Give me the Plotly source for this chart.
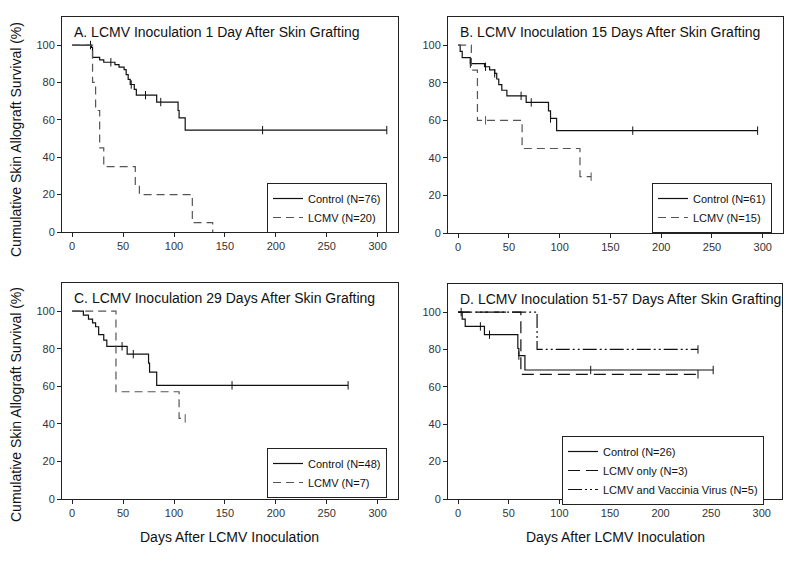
import numpy as np
import plotly.graph_objects as go

# Kaplan-Meier steps: (time in days, survival %) after each drop
a_ctrl_t = [0, 19, 20, 27, 31, 42, 46, 51, 53, 55, 57, 61, 63, 83, 104, 105, 111, 309]
a_ctrl_s = [100, 98.7, 93.4, 92.1, 90.8, 89.5, 88.2, 86.8, 84.2, 81.6, 78.9, 76.3, 73.2, 69.5, 65, 61, 54.5, 54.5]
a_ctrl_c = [18, 38, 58, 72, 87, 187, 309]
a_lcmv_t = [0, 20, 23, 27, 31, 62, 66, 118, 138]
a_lcmv_s = [100, 80, 65, 45, 35, 25, 20, 5, 0]
a_lcmv_c = []

b_ctrl_t = [0, 2, 4, 12, 26, 31, 36, 38, 40, 43, 48, 67, 89, 91, 97, 295]
b_ctrl_s = [100, 96.7, 93.4, 90.2, 88.5, 86.8, 85, 82, 79, 76, 73, 69.5, 65, 61, 54.5, 54.5]
b_ctrl_c = [12, 27, 36, 62, 72, 91, 172, 295]
b_lcmv_t = [0, 13, 19, 63, 120, 131]
b_lcmv_s = [100, 86.7, 60, 45, 30, 30]
b_lcmv_c = [27, 131]

c_ctrl_t = [0, 11, 16, 20, 23, 26, 31, 34, 54, 75, 76, 83, 271]
c_ctrl_s = [100, 97.9, 95.8, 93.8, 91.7, 87.5, 84.6, 81.3, 77.1, 72.3, 67.5, 60.5, 60.5]
c_ctrl_c = [49, 60, 157, 271]
c_lcmv_t = [0, 43, 105, 111]
c_lcmv_s = [100, 57.1, 42.9, 42.9]
c_lcmv_c = [111]

d_ctrl_t = [0, 4, 7, 26, 59, 60, 66, 252]
d_ctrl_s = [100, 96.2, 92.3, 87.9, 80.5, 76.7, 69, 69]
d_ctrl_c = [3, 22, 31, 60, 131, 252]
d_lcmv_t = [0, 62, 237]
d_lcmv_s = [100, 66.7, 66.7]
d_lcmv_c = [237]
d_vacc_t = [0, 78, 237]
d_vacc_s = [100, 80, 80]
d_vacc_c = [237]

titles = ["A. LCMV Inoculation 1 Day After Skin Grafting",
          "B. LCMV Inoculation 15 Days After Skin Grafting",
          "C. LCMV Inoculation 29 Days After Skin Grafting",
          "D. LCMV Inoculation 51-57 Days After Skin Grafting"]

FONT = "Arial, Liberation Sans, sans-serif"

# panel boxes in pixels: left, right, top, bottom
W, H = 800, 561
boxes = [(62, 398, 17, 232), (448, 783, 17, 233), (62, 398, 283, 499), (448, 782, 284, 499)]
legpos = [(267, 183), (652, 183), (267, 448), (562, 436)]

fig = go.Figure()


def surv_at(t, s, x):
    idx = np.searchsorted(np.array(t), x, side="right") - 1
    return [s[i] for i in idx]


def add_curve(k, t, s, cens, name, color, dash):
    ax = "" if k == 0 else str(k + 1)
    leg = "legend" if k == 0 else "legend%d" % (k + 1)
    fig.add_trace(go.Scatter(x=t, y=s, mode="lines", line_shape="hv", name=name,
                             line=dict(color=color, width=1.2, dash=dash),
                             xaxis="x" + ax, yaxis="y" + ax, legend=leg))
    if cens:
        fig.add_trace(go.Scatter(x=cens, y=surv_at(t, s, cens), mode="markers", showlegend=False,
                                 marker=dict(symbol="line-ns", size=6, line=dict(color=color, width=1)),
                                 xaxis="x" + ax, yaxis="y" + ax, hoverinfo="skip"))


solid = "solid"
dashed = "8px,5px"
add_curve(0, a_ctrl_t, a_ctrl_s, a_ctrl_c, "Control (N=76)", "#111", solid)
add_curve(0, a_lcmv_t, a_lcmv_s, a_lcmv_c, "LCMV (N=20)", "#555", dashed)
add_curve(1, b_ctrl_t, b_ctrl_s, b_ctrl_c, "Control (N=61)", "#111", solid)
add_curve(1, b_lcmv_t, b_lcmv_s, b_lcmv_c, "LCMV (N=15)", "#555", dashed)
add_curve(2, c_ctrl_t, c_ctrl_s, c_ctrl_c, "Control (N=48)", "#111", solid)
add_curve(2, c_lcmv_t, c_lcmv_s, c_lcmv_c, "LCMV (N=7)", "#555", dashed)
add_curve(3, d_ctrl_t, d_ctrl_s, d_ctrl_c, "Control (N=26)", "#111", solid)
add_curve(3, d_lcmv_t, d_lcmv_s, d_lcmv_c, "LCMV only (N=3)", "#111", "12px,6px")
add_curve(3, d_vacc_t, d_vacc_s, d_vacc_c, "LCMV and Vaccinia Virus (N=5)", "#111", "14px,3px,2px,3px,2px,3px")

layout = dict(width=W, height=H, margin=dict(l=0, r=0, t=0, b=0),
              paper_bgcolor="white", plot_bgcolor="white",
              font=dict(family=FONT, color="#222"))
annotations = []
for k, (l, r, t, b) in enumerate(boxes):
    ax = "" if k == 0 else str(k + 1)
    layout["xaxis" + ax] = dict(domain=[l / W, r / W], range=[-10, 320], tickvals=[0, 50, 100, 150, 200, 250, 300],
                                showgrid=False, zeroline=False, showline=True, mirror=True, linecolor="#222",
                                linewidth=1, ticks="outside", ticklen=4, tickcolor="#222", automargin=False,
                                tickfont=dict(size=11, color="#333"), anchor="y" + ax)
    layout["yaxis" + ax] = dict(domain=[1 - b / H, 1 - t / H], range=[0, 115], tickvals=[0, 20, 40, 60, 80, 100],
                                showgrid=False, zeroline=False, showline=True, mirror=True, linecolor="#222",
                                linewidth=1, ticks="outside", ticklen=4, tickcolor="#222", automargin=False,
                                tickfont=dict(size=11, color="#333"), anchor="x" + ax)
    annotations.append(dict(text=titles[k], xref="paper", yref="paper", x=(l + 10) / W, y=1 - (t + 15) / H,
                            xanchor="left", yanchor="middle", showarrow=False,
                            font=dict(size=14, color="#111")))
    lx, ly = legpos[k]
    layout["legend" if k == 0 else "legend%d" % (k + 1)] = dict(
        x=lx / W, y=1 - ly / H, xanchor="left", yanchor="top", bgcolor="white",
        bordercolor="#222", borderwidth=1, font=dict(size=11, color="#111"),
        tracegroupgap=0, itemwidth=30)

for yc in [140, 405]:
    annotations.append(dict(text="Cumulative Skin Allograft Survival (%)", xref="paper", yref="paper",
                            x=16 / W, y=1 - yc / H, textangle=-90, showarrow=False,
                            xanchor="center", yanchor="middle", font=dict(size=14, color="#111")))
for xc in [230, 615]:
    annotations.append(dict(text="Days After LCMV Inoculation", xref="paper", yref="paper",
                            x=xc / W, y=1 - 537 / H, showarrow=False,
                            xanchor="center", yanchor="middle", font=dict(size=14, color="#111")))
layout["annotations"] = annotations
fig.update_layout(**layout)

# the page's default body margin shifts the figure by 8px
fig.write_html("out.html", config={"displayModeBar": False},
               post_script="document.body.style.margin='0';")
